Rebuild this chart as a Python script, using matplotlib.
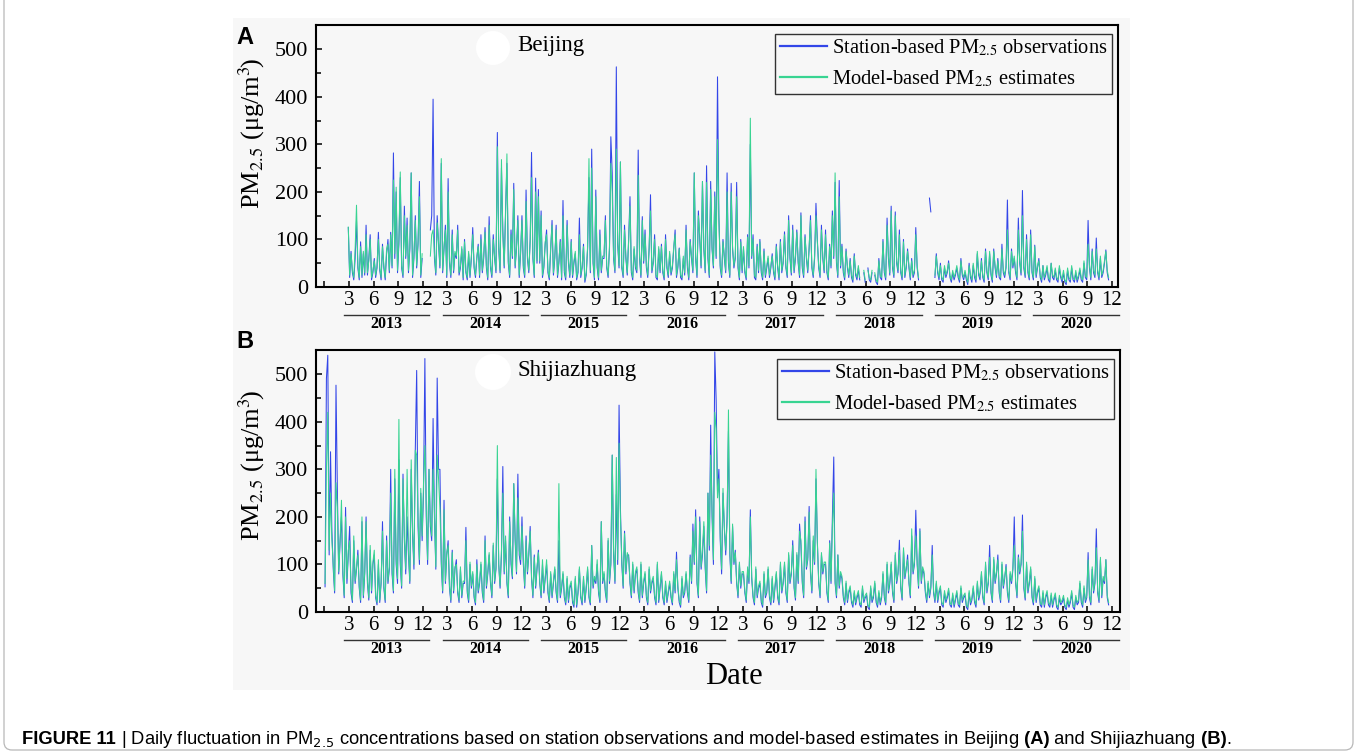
import numpy as np
import matplotlib
matplotlib.use("Agg")
import matplotlib.pyplot as plt
from matplotlib.patches import Rectangle, FancyBboxPatch, Circle
from matplotlib.transforms import blended_transform_factory
from matplotlib.ticker import MultipleLocator

N = np.nan

# six samples per month, Jan 2013 - Dec 2020
years = [2013, 2014, 2015, 2016, 2017, 2018, 2019, 2020]
tick_months = [3, 6, 9, 12]

# Beijing, station observations
bj_obs_2013 = [N,N,N,N,N,N, N,N,N,N,N,N, N,N,N,N,N,125, 20,75,30,15,60,140, 40,15,95,20,70,25, 130,25,60,110,15,30,
               60,20,40,115,35,15, 90,40,15,70,100,30, 115,40,282,60,200,30, 90,230,40,20,170,60, 145,30,80,240,20,60, 150,40,90,222,20,60]
bj_obs_2014 = [N,N,N,N,N,120, 150,395,60,25,150,90, 40,260,30,80,130,20, 228,50,20,120,30,70, 60,130,25,40,80,15, 100,30,15,70,20,60,
               125,40,20,60,90,20, 110,30,60,125,40,15, 148,40,20,110,60,30, 325,80,30,250,120,40, 160,260,50,20,120,60, 218,40,80,150,20,70]
bj_obs_2015 = [150,40,20,204,60,30, 100,283,60,20,229,50, 205,50,160,20,40,90, 120,30,15,80,140,25, 60,130,20,50,100,15, 182,30,15,140,50,20,
               100,20,50,70,15,30, 145,20,40,90,10,25, 80,230,30,290,50,15, 204,40,15,120,30,60, 60,150,40,20,80,316, 240,60,30,463,90,40]
bj_obs_2016 = [263,40,20,130,60,25, 100,190,30,15,80,40, 30,288,60,20,148,50, 120,40,20,80,194,30, 50,110,20,15,80,30, 90,30,15,110,40,20,
               70,25,40,80,120,20, 40,82,20,15,60,25, 130,40,15,100,60,30, 240,60,20,160,100,40, 222,80,30,255,60,20, 222,80,40,200,60,442]
bj_obs_2017 = [150,40,20,100,60,30, 240,50,20,218,80,40, 60,220,40,15,100,30, 80,30,15,110,40,300, 60,110,20,15,90,30, 100,30,15,80,20,40,
               60,20,40,70,30,15, 90,40,15,100,30,50, 116,40,20,150,60,25, 130,30,60,120,50,20, 156,40,20,110,60,30, 80,150,40,20,60,176]
bj_obs_2018 = [100,40,20,130,60,30, 120,30,15,90,40,160, 60,220,50,20,224,40, 90,30,15,80,40,20, 60,20,10,70,25,15, 40,15,N,N,30,10,
               N,40,15,10,30,N, 25,10,5,60,20,15, 100,30,15,145,60,25, 170,40,20,158,50,30, 120,30,15,100,20,40, 80,40,15,60,20,30]
bj_obs_2019 = [125,40,15,N,N,N, N,N,N,N,187,158, N,N,20,70,30,15, 50,15,10,40,20,30, 55,20,10,30,15,25, 40,20,10,60,25,15,
               30,15,5,50,20,10, 45,20,10,70,25,15, 60,20,10,80,30,15, 70,25,10,80,40,20, 60,20,15,90,30,20, 40,183,30,15,80,40]
bj_obs_2020 = [60,30,15,145,50,25, 203,40,20,110,30,15, 120,30,15,88,20,40, 60,20,10,45,15,25, 40,15,10,50,20,15, 35,15,10,40,20,10,
               30,10,5,35,15,10, 40,15,10,30,10,20, 35,15,10,50,20,15, 140,40,15,80,30,20, 103,30,15,60,20,30, 50,78,30,15,N,N]

# Beijing, model estimates
bj_mod_2013 = [N,N,N,N,N,N, N,N,N,N,N,N, N,N,N,N,N,126, 25,70,35,20,80,172, 45,20,85,25,75,30, 110,30,55,100,20,35,
               55,25,45,100,40,20, 85,45,20,80,90,35, 110,45,225,70,210,35, 100,242,45,25,150,65, 130,35,85,240,25,70, 140,45,95,190,25,70]
bj_mod_2014 = [N,N,N,N,N,65, 110,120,70,30,135,95, 45,270,35,85,120,25, 200,55,25,110,35,75, 65,120,30,45,85,20, 95,35,20,75,25,65,
               110,45,25,65,85,25, 100,35,65,115,45,20, 130,45,25,100,65,35, 295,85,35,268,110,45, 150,280,55,25,110,65, 205,45,85,140,25,75]
bj_mod_2015 = [140,45,25,180,65,35, 95,230,65,25,200,55, 190,55,150,25,45,95, 110,35,20,85,130,30, 65,120,25,55,95,20, 150,35,20,130,55,25,
               95,25,55,75,20,35, 110,25,45,85,15,30, 85,270,35,250,55,20, 190,45,20,110,35,65, 65,140,45,25,85,260, 200,65,35,290,95,45]
bj_mod_2016 = [263,45,25,120,65,30, 95,170,35,20,85,45, 35,235,65,25,140,55, 110,45,25,85,160,35, 55,100,25,20,85,35, 85,35,20,100,45,25,
               75,30,45,85,110,25, 45,80,25,20,65,30, 120,45,20,95,65,35, 240,65,25,150,110,45, 222,85,35,220,65,25, 205,85,45,190,65,310]
bj_mod_2017 = [140,45,25,95,65,35, 200,55,25,200,85,45, 65,190,45,20,95,35, 85,35,20,105,45,355, 65,100,25,20,85,35, 95,35,20,75,25,45,
               65,25,45,65,35,20, 85,45,20,95,35,55, 110,45,25,140,65,30, 120,35,65,115,55,25, 150,45,25,105,65,35, 85,140,45,25,65,150]
bj_mod_2018 = [95,45,25,120,65,35, 110,35,20,85,45,150, 65,240,55,25,190,45, 85,35,20,75,45,25, 55,25,15,65,30,20, 45,20,N,N,35,15,
               N,35,20,15,35,N, 30,15,10,55,25,20, 95,35,20,130,65,30, 160,45,25,150,55,35, 110,35,20,95,25,45, 75,45,20,55,25,35]
bj_mod_2019 = [110,45,20,N,N,N, N,N,N,N,N,N, N,N,25,65,35,20, 45,20,15,45,25,35, 50,25,15,35,20,30, 45,25,15,55,30,20,
               35,20,10,45,25,15, 50,25,15,75,30,20, 55,25,15,75,35,20, 75,30,15,75,45,25, 55,25,20,80,35,25, 45,120,35,20,75,45]
bj_mod_2020 = [65,35,20,120,55,30, 150,45,25,100,35,20, 110,35,20,85,25,45, 55,25,15,45,20,30, 45,20,15,50,25,20, 40,20,15,45,25,15,
               35,15,10,40,20,15, 45,20,15,35,15,25, 40,20,15,55,25,20, 90,45,20,75,35,25, 80,35,20,65,25,35, 55,75,35,20,N,N]

# Shijiazhuang, station observations
sjz_obs_2013 = [53,491,540,120,337,170, 90,40,477,255,80,150, 200,80,30,220,60,120, 180,40,20,150,60,90, 130,50,20,190,30,80, 200,60,25,130,40,100,
                120,30,15,100,20,60, 190,50,20,160,60,90, 300,80,40,280,100,60, 320,100,50,290,150,80, 200,120,60,300,160,90, 342,508,180,100,250,150]
sjz_obs_2014 = [250,533,200,100,300,180, 150,407,200,90,492,300, 300,100,40,235,60,120, 150,50,20,130,40,90, 110,40,20,90,30,60, 60,178,40,20,100,50,
                80,30,15,110,40,60, 100,40,20,160,50,80, 120,60,30,140,60,90, 280,100,50,120,306,80, 150,60,30,200,100,70, 270,150,80,290,120,100]
sjz_obs_2015 = [200,100,50,160,80,120, 180,70,30,120,50,90, 130,60,30,100,40,70, 100,40,20,80,30,60, 90,40,20,150,30,50, 80,30,15,70,20,50,
                60,20,10,70,10,40, 90,30,15,70,20,50, 90,30,15,140,50,70, 60,100,40,20,190,60, 80,40,20,150,60,100, 330,120,60,247,100,435]
sjz_obs_2016 = [217,100,50,170,80,120, 120,60,30,100,40,80, 90,40,20,100,30,60, 80,30,15,90,40,60, 70,30,15,100,20,50, 80,30,15,60,20,40,
                60,30,15,80,40,126, 50,20,10,70,30,40, 80,40,20,120,60,185, 100,215,60,30,200,90, 120,180,90,40,250,130, 393,200,100,547,445,250]
sjz_obs_2017 = [300,150,80,250,175,120, 200,380,120,60,180,100, 130,60,30,100,50,80, 80,40,20,90,60,215, 70,30,15,90,30,50, 60,20,10,80,30,40,
                90,30,15,70,20,50, 80,30,15,100,40,60, 100,40,20,120,60,80, 150,50,25,120,60,185, 140,60,30,200,90,110, 222,80,40,150,100,280]
sjz_obs_2018 = [150,60,30,120,80,100, 100,40,20,150,60,200, 326,60,30,120,50,80, 70,30,15,60,20,40, 50,20,10,40,15,30, 40,15,10,50,20,30,
                35,10,5,50,20,30, 60,20,10,40,15,30, 80,30,15,100,40,60, 100,40,20,120,60,80, 151,50,25,130,70,90, 120,60,30,160,80,100]
sjz_obs_2019 = [214,100,50,175,60,90, 80,40,20,60,30,50, 140,40,20,60,20,40, 50,15,10,40,20,30, 45,15,10,35,10,25, 40,15,10,50,20,30,
                35,10,5,40,15,25, 50,20,10,60,25,40, 80,30,15,100,40,60, 140,40,20,110,60,80, 120,40,20,100,50,70, 100,40,20,80,60,90]
sjz_obs_2020 = [200,60,30,120,80,100, 204,50,25,100,40,60, 90,30,15,70,20,40, 50,15,10,40,10,30, 40,15,10,35,10,25, 35,10,5,30,15,20,
                30,10,5,25,10,20, 40,10,5,30,15,20, 60,20,10,50,20,30, 125,30,15,90,40,60, 175,40,20,110,30,70, 60,110,30,15,N,N]

# Shijiazhuang, model estimates
sjz_mod_2013 = [60,300,420,130,250,150, 100,45,272,220,85,150, 235,90,35,200,70,130, 150,50,25,160,65,95, 120,55,25,200,35,85, 190,65,30,140,45,105,
                130,35,20,110,25,65, 170,55,25,150,65,95, 250,90,45,300,110,70, 405,110,55,280,160,90, 300,130,65,320,170,100, 340,330,200,110,260,160]
sjz_mod_2014 = [270,350,220,110,300,190, 160,300,210,95,330,280, 220,110,45,215,65,125, 140,55,25,125,45,95, 100,45,25,95,35,65, 65,150,45,25,105,55,
                85,35,20,100,45,65, 105,45,25,150,55,85, 125,65,35,145,65,95, 350,100,55,130,250,85, 160,65,35,190,110,75, 270,160,85,240,130,110]
sjz_mod_2015 = [180,110,55,150,85,125, 170,75,35,115,55,95, 125,65,35,110,45,75, 110,45,25,85,35,65, 95,45,25,270,35,55, 85,35,20,75,25,55,
                65,25,15,75,15,45, 95,35,20,75,25,55, 95,35,20,140,55,75, 65,110,45,25,190,65, 85,45,25,155,65,105, 330,130,65,325,110,355]
sjz_mod_2016 = [200,110,55,165,85,125, 115,65,35,105,45,85, 95,45,25,105,35,65, 85,35,20,95,45,65, 75,35,20,105,25,55, 85,35,20,65,25,45,
                65,35,20,85,45,110, 55,25,15,75,35,45, 85,45,25,115,65,170, 105,200,65,35,190,95, 130,190,100,45,250,140, 330,220,110,420,385,240]
sjz_mod_2017 = [280,160,90,260,180,130, 190,425,130,65,185,105, 125,65,35,105,55,85, 85,45,25,95,65,200, 75,35,20,95,35,55, 65,25,15,85,35,45,
                95,35,20,75,25,55, 85,35,20,105,45,65, 105,45,25,125,65,85, 140,55,30,125,65,170, 150,65,35,190,95,115, 210,85,45,160,105,300]
sjz_mod_2018 = [145,65,35,125,85,105, 105,45,25,145,65,180, 250,65,35,120,55,85, 75,35,20,65,25,45, 55,25,15,45,20,35, 45,20,15,55,25,35,
                40,15,10,55,25,35, 65,25,15,45,20,35, 85,35,20,105,45,65, 105,45,25,125,65,85, 130,55,30,135,75,95, 110,65,35,175,85,105]
sjz_mod_2019 = [160,105,55,170,65,95, 85,45,25,65,35,55, 120,45,25,65,25,45, 55,20,15,45,25,35, 50,20,15,40,15,30, 45,20,15,55,25,35,
                40,15,10,45,20,30, 55,25,15,65,30,45, 85,35,20,105,45,65, 115,45,25,115,65,85, 110,45,25,105,55,75, 95,45,25,85,65,95]
sjz_mod_2020 = [140,65,35,115,85,105, 170,55,30,105,45,65, 95,35,20,75,25,45, 55,20,15,45,15,35, 45,20,15,40,15,30, 40,15,10,35,20,25,
                35,15,10,30,15,25, 45,15,10,35,20,25, 65,25,15,55,25,35, 110,35,20,95,45,65, 135,45,25,115,35,75, 65,110,35,20,N,N]

bj_obs = (bj_obs_2013 + bj_obs_2014 + bj_obs_2015 + bj_obs_2016 +
          bj_obs_2017 + bj_obs_2018 + bj_obs_2019 + bj_obs_2020)
bj_mod = (bj_mod_2013 + bj_mod_2014 + bj_mod_2015 + bj_mod_2016 +
          bj_mod_2017 + bj_mod_2018 + bj_mod_2019 + bj_mod_2020)
sjz_obs = (sjz_obs_2013 + sjz_obs_2014 + sjz_obs_2015 + sjz_obs_2016 +
           sjz_obs_2017 + sjz_obs_2018 + sjz_obs_2019 + sjz_obs_2020)
sjz_mod = (sjz_mod_2013 + sjz_mod_2014 + sjz_mod_2015 + sjz_mod_2016 +
           sjz_mod_2017 + sjz_mod_2018 + sjz_mod_2019 + sjz_mod_2020)
assert len(bj_obs) == len(bj_mod) == len(sjz_obs) == len(sjz_mod) == 576

# time axis in months since 1 Jan 2013
t = (np.arange(len(bj_obs)) + 0.5) / 6.0

plt.rcParams['font.family'] = ['Liberation Serif', 'DejaVu Serif']
plt.rcParams['mathtext.fontset'] = 'stix'

W, H = 1357, 752
BG = '#f7f7f7'
BLUE = '#3346e8'
GREEN = '#38d492'

fig = plt.figure(figsize=(W / 100, H / 100), dpi=100, facecolor='white')

# light grey panel behind the chart
fig.patches.append(Rectangle((233 / W, 1 - 690 / H), (1130 - 233) / W, (690 - 18) / H,
                             transform=fig.transFigure, facecolor=BG, edgecolor='none', zorder=-10))
# rounded frame around the whole figure
fig.patches.append(FancyBboxPatch((0.04, 0.02), 13.49, 7.6,
                                  boxstyle='round,pad=0,rounding_size=0.08',
                                  transform=fig.dpi_scale_trans, facecolor='none',
                                  edgecolor='#b8b8b8', lw=0.9, zorder=-5))

axA = fig.add_axes([316 / W, 1 - 287 / H, (1118 - 316) / W, (287 - 25) / H])
axB = fig.add_axes([316 / W, 1 - 612 / H, (1120 - 316) / W, (612 - 350) / H])

panels = [
    (axA, bj_obs, bj_mod, 'Beijing', 96.73, 134),
    (axB, sjz_obs, sjz_mod, 'Shijiazhuang', 96.97, 466),
]

for ax, obs, mod, city, xr, ylab_y in panels:
    ax.set_facecolor(BG)
    ax.plot(t, obs, color=BLUE, lw=0.75, label='Station-based PM$_{2.5}$ observations')
    ax.plot(t, mod, color=GREEN, lw=0.75, label='Model-based PM$_{2.5}$ estimates')
    ax.set_xlim(-1.02, xr)
    ax.set_ylim(0, 551)

    ax.yaxis.set_major_locator(MultipleLocator(100))
    ax.yaxis.set_minor_locator(MultipleLocator(50))
    xt = [0] + [12 * (y - years[0]) + m for y in years for m in tick_months]
    ax.set_xticks(xt)
    ax.set_xticklabels([''] + [str(m) for y in years for m in tick_months])
    ax.tick_params(axis='both', which='both', direction='in', width=1.1, top=False, right=False)
    ax.tick_params(axis='both', which='major', length=4.5)
    ax.tick_params(axis='y', which='minor', length=3.5)
    ax.tick_params(axis='y', labelsize=16, pad=5.5)
    ax.tick_params(axis='x', labelsize=15, pad=3.0)
    for s in ax.spines.values():
        s.set_linewidth(1.5)

    tr = blended_transform_factory(ax.transData, ax.transAxes)
    for y in years:
        x0 = 12 * (y - years[0])
        ax.plot([x0 + 2.4, x0 + 12.8], [-0.106, -0.106], transform=tr, clip_on=False,
                color='#333333', lw=1.0)
        ax.text(x0 + 7.6, -0.142, str(y), transform=tr, ha='center', va='center',
                fontsize=11.5, fontweight='bold')

    ax.text(0.251, 0.92, city, transform=ax.transAxes, ha='left', va='center', fontsize=16.5)

    leg = ax.legend(loc='upper right', bbox_to_anchor=(0.992, 0.967), borderaxespad=0,
                    fontsize=14.8, handlelength=2.3, handletextpad=0.25, labelspacing=0.5,
                    borderpad=0.2, fancybox=False, framealpha=1, facecolor=BG,
                    edgecolor='#333333')
    leg.get_frame().set_linewidth(1.0)
    for h in leg.get_lines():
        h.set_linewidth(1.6)

    fig.text(252 / W, 1 - ylab_y / H, 'PM$_{2.5}$ (μg/m$^{3}\\!$)', rotation=90,
             ha='center', va='center', fontsize=19)

# panel letters
fig.text(245 / W, 1 - 38 / H, 'A', fontsize=17, fontweight='bold', family='Liberation Sans',
         ha='center', va='center')
fig.text(245 / W, 1 - 342 / H, 'B', fontsize=17, fontweight='bold', family='Liberation Sans',
         ha='center', va='center')

# white blots seen in the source picture
fig.patches.append(Circle((4.93, (H - 48) / 100), 0.17, transform=fig.dpi_scale_trans,
                          facecolor='white', edgecolor='none', zorder=5))
fig.patches.append(Circle((4.93, (H - 372) / 100), 0.18, transform=fig.dpi_scale_trans,
                          facecolor='white', edgecolor='none', zorder=5))

fig.text(734 / W, 1 - 676 / H, 'Date', fontsize=22, ha='center', va='center')

# caption, drawn piece by piece to mix bold and regular (spaces lead each piece)
pieces = [
    ('FIGURE 11', 'bold'),
    (' | Daily fluctuation in PM$_{2.5}$ concentrations based on station observations and '
     'model-based estimates in Beijing', 'normal'),
    (' (A)', 'bold'), (' and Shijiazhuang', 'normal'), (' (B)', 'bold'), ('.', 'normal'),
]
renderer = fig.canvas.get_renderer()
x = 22
for txt, wgt in pieces:
    tx = fig.text(x / W, 1 - 740 / H, txt, fontsize=13.2, fontweight=wgt,
                  family='Liberation Sans', math_fontfamily='dejavusans',
                  ha='left', va='center')
    bb = tx.get_window_extent(renderer)
    x = bb.x1

fig.savefig('out.png', dpi=100, facecolor='white')
